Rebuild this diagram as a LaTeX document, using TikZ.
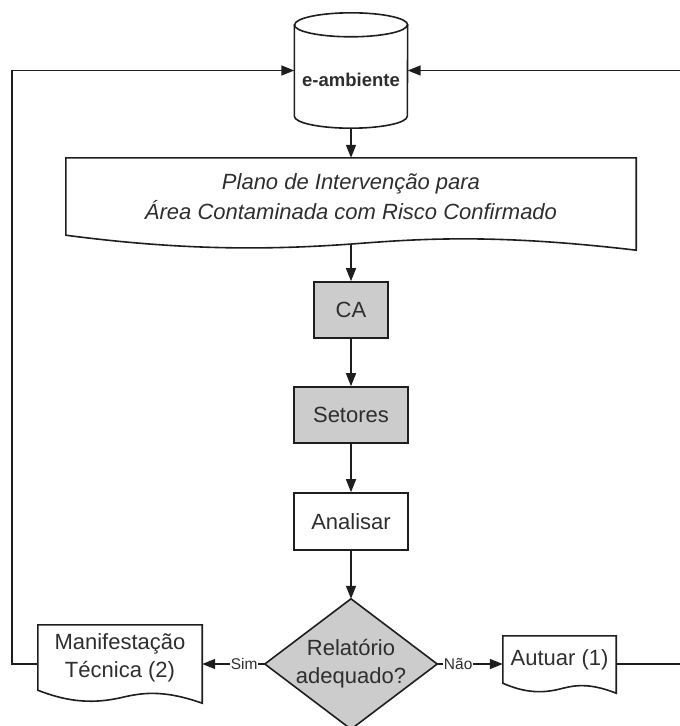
\documentclass[tikz,border=0pt]{standalone}
\usepackage{fontspec}
\setmainfont{Liberation Sans}
\usetikzlibrary{arrows.meta,calc,backgrounds}
\definecolor{boxgray}{HTML}{CCCCCC}
\definecolor{inkline}{HTML}{1E1E1E}
\definecolor{inktext}{HTML}{2E2E2E}

% Document outline: flat top, wavy bottom that ends lower on the right.
% #1 = node name, #2 = drop of the bottom-right corner below the node's south edge
\newcommand\docoutline[2]{%
  \draw[flow] let \p1=(#1.north west), \p2=(#1.south east), \n1={\x2-\x1} in
    (\x1,\y1) -- (\x2,\y1) -- (\x2,{\y2-#2})
    .. controls ({\x1+0.75*\n1},{\y2+0.12*#2}) and ({\x1+0.62*\n1},{\y2-0.24*#2})
    .. ({\x1+0.5*\n1},{\y2-0.59*#2})
    .. controls ({\x1+0.35*\n1},{\y2-#2}) and ({\x1+0.2*\n1},{\y2-#2})
    .. (\x1,\y2) -- cycle;}

\begin{document}
\begin{tikzpicture}[x=1pt,y=-1pt,
  flow/.style={draw=inkline, line width=1.6pt, line join=miter},
  arr/.style={flow, -{Triangle[length=13pt,width=10pt]}},
  txt/.style={text=inktext, align=center, font=\fontsize{22}{28}\selectfont},
  frame/.style={txt, rectangle, inner sep=0pt},
  box/.style={frame, draw=inkline, line width=1.6pt},
  greybox/.style={box, fill=boxgray},
  lbl/.style={fill=white, text=inktext, font=\fontsize{15.5}{18}\selectfont, inner sep=1pt},
]
\useasboundingbox (0,0) rectangle (680,726);

% database cylinder
\node[frame, minimum width=113pt, minimum height=115pt] (cyl) at (351,70.5) {};
\draw[flow] ([yshift=-12pt]cyl.north west) -- ([yshift=12pt]cyl.south west)
  arc[start angle=180, end angle=360, x radius=56.5pt, y radius=12pt]
  -- ([yshift=-12pt]cyl.north east)
  arc[start angle=0, end angle=180, x radius=56.5pt, y radius=12pt] -- cycle;
\draw[flow] ([yshift=-12pt]cyl.north west)
  arc[start angle=180, end angle=360, x radius=56.5pt, y radius=12pt];
\node[txt, font=\bfseries\fontsize{18.5}{22}\selectfont] (cyltext) at ([yshift=-9.5pt]cyl.center) {e-ambiente};

% intervention plan document
\node[frame, minimum width=570pt, minimum height=77pt, font=\itshape\fontsize{22}{30}\selectfont,
      text depth=0pt] (plano) at (351,196.5)
  {Plano de Intervenção para\\Área Contaminada com Risco Confirmado};
\docoutline{plano}{15pt}
\coordinate (planoout) at ([yshift=-9pt]plano.south);

% process steps
\node[greybox, minimum width=74pt, minimum height=56pt] (ca) at (351,310) {CA};
\node[greybox, minimum width=114pt, minimum height=56pt] (setores) at (351,415) {Setores};
\node[box, minimum width=114pt, minimum height=57pt] (analisar) at (351,521.5) {Analisar};

% decision
\node[frame, minimum width=172pt, minimum height=130pt] (dec) at (351,664) {Relatório\\adequado?};
\begin{scope}[on background layer]
  \draw[flow, fill=boxgray] (dec.north) -- (dec.east) -- (dec.south) -- (dec.west) -- cycle;
\end{scope}

% outcome documents
\node[frame, minimum width=164pt, minimum height=65pt] (manif) at (120,657.5) {Manifestação\\Técnica (2)};
\docoutline{manif}{13pt}
\node[frame, minimum width=113pt, minimum height=47pt] (autuar) at (559.5,659.5) {Autuar (1)};
\docoutline{autuar}{10pt}

% main flow
\draw[arr] (cyl.south) -- (plano.north);
\draw[arr] (planoout) -- (ca.north);
\draw[arr] (ca.south) -- (setores.north);
\draw[arr] (setores.south) -- (analisar.north);
\draw[arr] (analisar.south) -- (dec.north);
\draw[arr] (dec.west) -- node[lbl, pos=0.33] (simlbl) {Sim} (dec.west -| manif.east);
\draw[arr] (dec.east) -- node[lbl, pos=0.32] (naolbl) {Não} (dec.east -| autuar.west);

% feedback loops into the database
\coordinate (lc) at (12,70.5);
\coordinate (rc) at (681,70.5);
\draw[arr] (dec.west -| manif.west) -| (lc) -- (cyl.west);
\draw[arr] (dec.east -| autuar.east) -| (rc) -- (cyl.east);
\end{tikzpicture}
\end{document}
